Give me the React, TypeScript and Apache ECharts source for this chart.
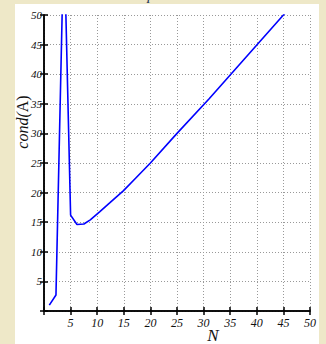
import React, { useEffect, useRef } from "react";
import * as echarts from "echarts";

const nValues = [1, 2.25, 3.75, 5, 6.2, 7.5, 8.7, 10.5, 12.4, 14.9, 17.4, 20, 25, 31, 45, 50];
const condValues = [1.0, 2.7, 64, 16.2, 14.6, 14.7, 15.4, 16.8, 18.3, 20.3, 22.6, 25, 30, 35.8, 50, 55];
const xTicks = [5, 10, 15, 20, 25, 30, 35, 40, 45, 50];
const yTicks = [5, 10, 15, 20, 25, 30, 35, 40, 45, 50];

const serif = "'Liberation Serif', 'DejaVu Serif', serif";

export default function App() {
  const ref = useRef<HTMLDivElement>(null);
  useEffect(() => {
    document.body.style.margin = "0";
    if (!ref.current) return;
    const chart = echarts.init(ref.current, null, { renderer: "svg" });
    const data = nValues.map((n, i) => [n, condValues[i]]);
    const label = (v: number) => (xTicks.indexOf(v) >= 0 ? String(v) : "");
    const ylabel = (v: number) => (yTicks.indexOf(v) >= 0 ? String(v) : "");
    const axisLine = { show: true, lineStyle: { color: "#000", width: 1.5 } };
    const tick = { show: true, inside: true, length: 4, lineStyle: { color: "#000", width: 1.5 } };
    const split = { show: true, lineStyle: { color: "#999", type: [1, 2], width: 1 } };
    chart.setOption({
      animation: false,
      backgroundColor: "transparent",
      grid: { left: 44, top: 15, right: 16, bottom: 33, containLabel: false },
      xAxis: [
        {
          type: "value",
          min: 0,
          max: 50,
          interval: 5,
          axisLine,
          axisTick: tick,
          splitLine: split,
          axisLabel: {
            formatter: label,
            fontFamily: serif,
            fontStyle: "italic",
            fontSize: 12,
            color: "#111",
            margin: 6,
          },
        },
        {
          type: "value",
          position: "top",
          min: 0,
          max: 50,
          interval: 5,
          axisLine,
          axisTick: tick,
          splitLine: { show: false },
          axisLabel: { show: false },
        },
      ],
      yAxis: [
        {
          type: "value",
          min: 0,
          max: 50,
          interval: 5,
          axisLine,
          axisTick: tick,
          splitLine: split,
          axisLabel: {
            formatter: ylabel,
            fontFamily: serif,
            fontStyle: "italic",
            fontSize: 11,
            color: "#111",
            margin: 2,
          },
        },
        {
          type: "value",
          position: "right",
          min: 0,
          max: 50,
          interval: 5,
          axisLine,
          axisTick: tick,
          splitLine: { show: false },
          axisLabel: { show: false },
        },
      ],
      series: [
        {
          type: "line",
          data,
          xAxisIndex: 0,
          yAxisIndex: 0,
          showSymbol: false,
          clip: true,
          lineStyle: { color: "#0000ff", width: 1.6 },
        },
      ],
      graphic: [
        {
          type: "text",
          x: 213,
          y: 335,
          style: {
            text: "N",
            font: `italic 17px ${serif}`,
            fill: "#111",
            align: "center",
            verticalAlign: "middle",
          },
        },
        {
          type: "text",
          x: 22,
          y: 122,
          rotation: Math.PI / 2,
          style: {
            text: "{i|cond(}{u|A}{u|)}",
            rich: {
              i: { font: `italic 16px ${serif}`, fill: "#111" },
              u: { font: `16px ${serif}`, fill: "#111" },
            },
            align: "center",
            verticalAlign: "middle",
          },
        },
        {
          type: "text",
          x: 151,
          y: 2,
          style: {
            text: "p",
            font: `italic 15px ${serif}`,
            fill: "#223355",
            align: "center",
            verticalAlign: "bottom",
          },
        },
      ],
    });
    return () => chart.dispose();
  }, []);
  return (
    <div style={{ position: "relative", width: 326, height: 344, background: "#eee8c8", overflow: "hidden" }}>
      <div style={{ position: "absolute", left: 15, top: 4, width: 304, height: 340, background: "#fff" }} />
      <div ref={ref} style={{ position: "absolute", left: 0, top: 0, width: 326, height: 344 }} />
    </div>
  );
}
